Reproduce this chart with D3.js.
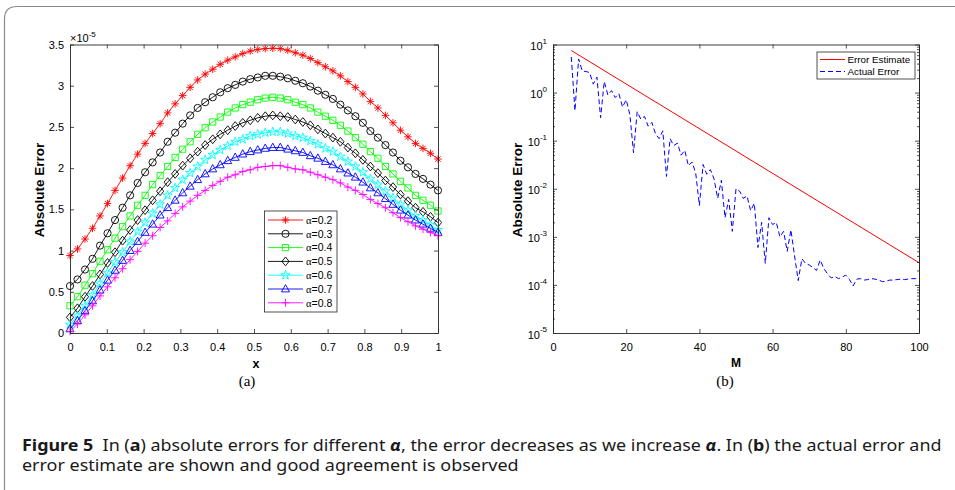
<!DOCTYPE html>
<html><head><meta charset="utf-8">
<script src="https://cdn.jsdelivr.net/npm/d3@7"></script>
<style>body{margin:0;background:#fff}svg{display:block}</style>
</head><body><svg id="c" width="955" height="490"></svg>
<script>
// ---------------- DATA ----------------
const xGrid = [0,0.0204,0.0408,0.0612,0.0816,0.1020,0.1224,0.1429,0.1633,0.1837,0.2041,0.2245,0.2449,0.2653,0.2857,0.3061,0.3265,0.3469,0.3673,0.3878,0.4082,0.4286,0.4490,0.4694,0.4898,0.5102,0.5306,0.5510,0.5714,0.5918,0.6122,0.6327,0.6531,0.6735,0.6939,0.7143,0.7347,0.7551,0.7755,0.7959,0.8163,0.8367,0.8571,0.8776,0.8980,0.9184,0.9388,0.9592,0.9796,1];
const alphaNames = ["0.2","0.3","0.4","0.5","0.6","0.7","0.8"];
const err_a02 = [0.94,1.02,1.14,1.27,1.42,1.57,1.73,1.88,2.03,2.17,2.30,2.42,2.54,2.67,2.78,2.88,2.98,3.07,3.14,3.20,3.26,3.31,3.35,3.39,3.42,3.44,3.45,3.455,3.45,3.43,3.40,3.37,3.33,3.28,3.23,3.18,3.12,3.05,2.98,2.90,2.81,2.73,2.64,2.55,2.46,2.38,2.30,2.24,2.18,2.11];
const err_a03 = [0.57,0.65,0.77,0.90,1.06,1.21,1.37,1.52,1.67,1.82,1.95,2.07,2.19,2.32,2.43,2.54,2.64,2.73,2.80,2.86,2.92,2.97,3.01,3.05,3.08,3.10,3.12,3.12,3.11,3.09,3.06,3.03,2.99,2.94,2.89,2.84,2.77,2.70,2.63,2.55,2.45,2.37,2.28,2.19,2.09,2.01,1.93,1.87,1.80,1.73];
const err_a04 = [0.33,0.44,0.58,0.72,0.87,1.01,1.15,1.29,1.42,1.55,1.67,1.80,1.91,2.02,2.13,2.23,2.32,2.41,2.49,2.56,2.62,2.68,2.73,2.77,2.80,2.83,2.85,2.86,2.85,2.83,2.80,2.77,2.73,2.68,2.63,2.58,2.52,2.45,2.37,2.29,2.20,2.12,2.02,1.93,1.84,1.76,1.67,1.61,1.55,1.48];
const err_a05 = [0.19,0.30,0.44,0.57,0.71,0.85,0.98,1.12,1.25,1.37,1.49,1.61,1.72,1.83,1.93,2.03,2.12,2.20,2.28,2.35,2.41,2.46,2.51,2.55,2.58,2.61,2.63,2.64,2.63,2.62,2.59,2.56,2.52,2.47,2.42,2.37,2.32,2.25,2.18,2.10,2.02,1.94,1.85,1.77,1.68,1.60,1.52,1.47,1.41,1.34];
const err_a06 = [0.10,0.21,0.33,0.46,0.60,0.73,0.86,0.98,1.11,1.23,1.34,1.45,1.56,1.67,1.76,1.86,1.94,2.02,2.10,2.16,2.22,2.27,2.32,2.35,2.39,2.41,2.43,2.44,2.44,2.42,2.39,2.37,2.33,2.29,2.24,2.20,2.14,2.08,2.02,1.95,1.87,1.80,1.72,1.64,1.56,1.49,1.42,1.37,1.31,1.25];
const err_a07 = [0.05,0.15,0.27,0.39,0.52,0.64,0.76,0.88,1.00,1.11,1.22,1.32,1.43,1.52,1.61,1.70,1.78,1.86,1.93,1.99,2.04,2.09,2.13,2.17,2.20,2.22,2.24,2.25,2.25,2.23,2.21,2.19,2.15,2.12,2.08,2.04,1.99,1.94,1.89,1.83,1.76,1.70,1.63,1.56,1.49,1.43,1.37,1.32,1.27,1.22];
const err_a08 = [0.02,0.11,0.22,0.33,0.45,0.56,0.67,0.78,0.89,0.99,1.09,1.18,1.28,1.36,1.45,1.53,1.60,1.67,1.73,1.79,1.84,1.89,1.92,1.96,1.98,2.01,2.02,2.03,2.03,2.01,1.99,1.98,1.95,1.92,1.89,1.86,1.82,1.77,1.73,1.68,1.62,1.57,1.52,1.46,1.40,1.35,1.30,1.26,1.22,1.18];
const xTicksL = [0,0.1,0.2,0.3,0.4,0.5,0.6,0.7,0.8,0.9,1];
const yTicksL = [0,0.5,1,1.5,2,2.5,3,3.5];

const estM = [5,100];
const estErr = [7.5,2.9e-4];
const actM = [5,6,7,8,9,10,11,12,13,14,15,16,17,18,19,20,21,22,23,24,25,26,27,28,29,30,31,32,33,34,35,36,37,38,39,40,41,42,43,44,45,46,47,48,49,50,51,52,53,54,55,56,57,58,59,60,61,62,63,64,65,66,67,68,69,70,71,72,73,74,75,76,77,78,79,80,81,82,83,84,85,86,87,88,89,90,91,92,93,94,95,96,97,98,99,100];
const actErr = [5.5,0.42,5.0,2.8,2.75,2.6,1.5,2.1,0.30,1.7,0.89,1.1,0.79,0.95,0.50,0.71,0.35,0.056,0.40,0.28,0.32,0.20,0.24,0.14,0.11,0.16,0.018,0.11,0.079,0.089,0.050,0.063,0.030,0.036,0.021,0.0045,0.032,0.020,0.025,0.016,0.0063,0.015,0.0025,0.0060,0.0013,0.010,0.0089,0.0063,0.0071,0.0035,0.0050,0.0006,0.0020,0.00028,0.0025,0.0018,0.0020,0.0010,0.0013,0.0005,0.0014,0.0004,0.000123,0.00035,0.00028,0.00026,0.00023,0.00020,0.00033,0.00022,0.00017,0.00014,0.00015,0.000135,0.000145,0.00016,0.00013,0.000095,0.000132,0.000135,0.000126,0.000129,0.000135,0.000132,0.000126,0.000117,0.00012,0.000126,0.000126,0.000129,0.000132,0.000129,0.000132,0.000135,0.000135,0.000138];
const xTicksR = [0,20,40,60,80,100];
const yExpR = [-5,-4,-3,-2,-1,0,1];
const legendR = ["Error Estimate","Actual Error"];

// ---------------- STYLE ----------------
const seriesL = [err_a02,err_a03,err_a04,err_a05,err_a06,err_a07,err_a08];
const colorsL = ["#ff0000","#000000","#00ff00","#000000","#00ffff","#0000ff","#ff00ff"];
const markersL = ["star","circle","square","diamond","pentagram","triangle","plus"];
const AX = "#262626";
const SANS = "'Liberation Sans', Arial, Helvetica, sans-serif";

const svg = d3.select("#c");
svg.append("rect").attr("width",955).attr("height",490).attr("fill","#fff");
svg.append("path").attr("d","M4.5,500 V19 Q4.5,6.5 17,6.5 H960")
  .attr("fill","none").attr("stroke","#8a8a8a").attr("stroke-width",1.2);

function drawMarker(g, type, cx, cy, color) {
  const p = g.append("path").attr("fill","none").attr("stroke",color).attr("stroke-width",0.9);
  let d = "";
  if (type === "star") {
    const s = 3.8, k = 2.7;
    d = `M${cx-s},${cy}H${cx+s}M${cx},${cy-s}V${cy+s}M${cx-k},${cy-k}L${cx+k},${cy+k}M${cx-k},${cy+k}L${cx+k},${cy-k}`;
  } else if (type === "circle") {
    d = d3.arc()({innerRadius:0,outerRadius:3.6,startAngle:0,endAngle:2*Math.PI});
    p.attr("transform",`translate(${cx},${cy})`);
  } else if (type === "square") {
    const s = 3.1; d = `M${cx-s},${cy-s}H${cx+s}V${cy+s}H${cx-s}Z`;
  } else if (type === "diamond") {
    const a = 3.6, b = 4.4; d = `M${cx},${cy-b}L${cx+a},${cy}L${cx},${cy+b}L${cx-a},${cy}Z`;
  } else if (type === "pentagram") {
    const R = 4.8, r = 1.9; const pts = [];
    for (let i=0;i<10;i++){ const ang = -Math.PI/2 + i*Math.PI/5; const rr = i%2?r:R; pts.push([cx+rr*Math.cos(ang), cy+rr*Math.sin(ang)]); }
    d = "M" + pts.map(q=>q.join(",")).join("L") + "Z";
  } else if (type === "triangle") {
    d = `M${cx},${cy-4.4}L${cx+4},${cy+2.9}L${cx-4},${cy+2.9}Z`;
  } else if (type === "plus") {
    const s = 4; d = `M${cx-s},${cy}H${cx+s}M${cx},${cy-s}V${cy+s}`;
  }
  p.attr("d", d);
}

function styleAxis(g) {
  g.selectAll("path.domain").attr("stroke",AX).attr("stroke-width",0.9);
  g.selectAll(".tick line").attr("stroke",AX).attr("stroke-width",0.8);
  g.selectAll(".tick text").attr("fill","#000").attr("font-family",SANS).attr("font-size",11);
}

// ---------------- LEFT PANEL ----------------
const xL = d3.scaleLinear().domain([0,1]).range([70,438]);
const yL = d3.scaleLinear().domain([0,3.5]).range([333,44.5]);
const gL = svg.append("g");

seriesL.forEach((vals, si) => {
  const pts = xGrid.map((x,i)=>[x, vals[i]]);
  gL.append("path").attr("d", d3.line().x(d=>xL(d[0])).y(d=>yL(d[1]))(pts))
    .attr("fill","none").attr("stroke",colorsL[si]).attr("stroke-width",0.9);
  pts.forEach(d => drawMarker(gL, markersL[si], xL(d[0]), yL(d[1]), colorsL[si]));
});

let a;
a = gL.append("g").attr("transform","translate(0,333)")
  .call(d3.axisBottom(xL).tickValues(xTicksL).tickSizeInner(-4).tickSizeOuter(0).tickPadding(10).tickFormat(d=>String(d)));
styleAxis(a);
a = gL.append("g").attr("transform","translate(0,44.5)")
  .call(d3.axisTop(xL).tickValues(xTicksL).tickSizeInner(-4).tickSizeOuter(0).tickFormat(""));
styleAxis(a);
a = gL.append("g").attr("transform","translate(70,0)")
  .call(d3.axisLeft(yL).tickValues(yTicksL).tickSizeInner(-4).tickSizeOuter(0).tickPadding(6).tickFormat(d=>String(d)));
styleAxis(a);
a = gL.append("g").attr("transform","translate(438,0)")
  .call(d3.axisRight(yL).tickValues(yTicksL).tickSizeInner(-4).tickSizeOuter(0).tickFormat(""));
styleAxis(a);

const mult = gL.append("text").attr("x",70).attr("y",41.5).attr("font-family",SANS).attr("font-size",11).attr("fill","#000");
mult.append("tspan").text("×10");
mult.append("tspan").attr("dy",-4.5).attr("font-size",8).text("-5");

gL.append("text").attr("x",256).attr("y",367.5).attr("text-anchor","middle")
  .attr("font-family",SANS).attr("font-size",12.5).attr("font-weight","bold").text("x");
gL.append("text").attr("transform","translate(44,190) rotate(-90)").attr("text-anchor","middle")
  .attr("font-family",SANS).attr("font-size",13.5).attr("font-weight","bold").text("Absolute Error");

// legend left
const lgL = gL.append("g");
lgL.append("rect").attr("x",264.5).attr("y",211).attr("width",72.5).attr("height",101)
  .attr("fill","#fff").attr("stroke",AX).attr("stroke-width",0.8);
alphaNames.forEach((nm,i)=>{
  const y = 220 + i*13.8;
  lgL.append("line").attr("x1",268).attr("x2",303).attr("y1",y).attr("y2",y).attr("stroke",colorsL[i]).attr("stroke-width",0.9);
  drawMarker(lgL, markersL[i], 285.5, y, colorsL[i]);
  const t = lgL.append("text").attr("x",306).attr("y",y+3.8).attr("font-size",10.5).attr("fill","#000");
  t.append("tspan").attr("font-family","'Liberation Serif', serif").text("α");
  t.append("tspan").attr("font-family",SANS).text("=" + nm);
});

// ---------------- RIGHT PANEL ----------------
const xR = d3.scaleLinear().domain([0,100]).range([553,919]);
const yR = d3.scaleLog().domain([1e-5,10]).range([333,44.5]);
const gR = svg.append("g");

gR.append("path").attr("d", d3.line().x(d=>xR(d[0])).y(d=>yR(d[1]))(estM.map((m,i)=>[m,estErr[i]])))
  .attr("fill","none").attr("stroke","#ff0000").attr("stroke-width",1);
gR.append("path").attr("d", d3.line().x(d=>xR(d[0])).y(d=>yR(d[1]))(actM.map((m,i)=>[m,actErr[i]])))
  .attr("fill","none").attr("stroke","#0000ff").attr("stroke-width",1).attr("stroke-dasharray","5,3");

const majorR = yExpR.map(e=>Math.pow(10,e));
const minorR = yR.ticks().filter(v => majorR.every(m => Math.abs(m - v)/m > 1e-6));

a = gR.append("g").attr("transform","translate(0,333)")
  .call(d3.axisBottom(xR).tickValues(xTicksR).tickSizeInner(-4).tickSizeOuter(0).tickPadding(10).tickFormat(d=>String(d)));
styleAxis(a);
a = gR.append("g").attr("transform","translate(0,44.5)")
  .call(d3.axisTop(xR).tickValues(xTicksR).tickSizeInner(-4).tickSizeOuter(0).tickFormat(""));
styleAxis(a);
a = gR.append("g").attr("transform","translate(553,0)")
  .call(d3.axisLeft(yR).tickValues(majorR).tickSizeInner(-4).tickSizeOuter(0).tickFormat(""));
styleAxis(a);
a = gR.append("g").attr("transform","translate(553,0)")
  .call(d3.axisLeft(yR).tickValues(minorR).tickSizeInner(-2).tickSizeOuter(0).tickFormat(""));
styleAxis(a);
a = gR.append("g").attr("transform","translate(919,0)")
  .call(d3.axisRight(yR).tickValues(majorR).tickSizeInner(-4).tickSizeOuter(0).tickFormat(""));
styleAxis(a);
a = gR.append("g").attr("transform","translate(919,0)")
  .call(d3.axisRight(yR).tickValues(minorR).tickSizeInner(-2).tickSizeOuter(0).tickFormat(""));
styleAxis(a);

yExpR.forEach(e => {
  const t = gR.append("text").attr("x",547).attr("y",yR(Math.pow(10,e))+5.5).attr("text-anchor","end")
    .attr("font-family",SANS).attr("font-size",11).attr("fill","#000");
  t.append("tspan").text("10");
  t.append("tspan").attr("dy",-6.5).attr("font-size",8).text(String(e));
});

gR.append("text").attr("x",736).attr("y",366.5).attr("text-anchor","middle")
  .attr("font-family",SANS).attr("font-size",12).attr("font-weight","bold").text("M");
gR.append("text").attr("transform","translate(522,190) rotate(-90)").attr("text-anchor","middle")
  .attr("font-family",SANS).attr("font-size",13.5).attr("font-weight","bold").text("Absolute Error");

const lgR = gR.append("g");
lgR.append("rect").attr("x",817).attr("y",52).attr("width",98).attr("height",27)
  .attr("fill","#fff").attr("stroke",AX).attr("stroke-width",0.8);
legendR.forEach((nm,i)=>{
  const y = 59.5 + i*12;
  lgR.append("line").attr("x1",820).attr("x2",845).attr("y1",y).attr("y2",y)
    .attr("stroke", i===0?"#ff0000":"#0000ff").attr("stroke-width",1).attr("stroke-dasharray", i===0?null:"5,3");
  lgR.append("text").attr("x",847.5).attr("y",y+3.5).attr("font-family",SANS).attr("font-size",9.8).attr("fill","#000").text(nm);
});

// sub labels
const SERIF = "'Liberation Serif', 'DejaVu Serif', serif";
svg.append("text").attr("x",247).attr("y",386).attr("text-anchor","middle").attr("font-family",SERIF).attr("font-size",15).text("(a)");
svg.append("text").attr("x",725).attr("y",386).attr("text-anchor","middle").attr("font-family",SERIF).attr("font-size",15).text("(b)");

// ---------------- CAPTION ----------------
const CAP = "'Noto Sans', 'Open Sans', sans-serif";
function capLine(y, parts, x0, x1) {
  const t = svg.append("text").attr("font-family",CAP).attr("font-size",16.5).attr("fill","#1a1a1a");
  parts.forEach(p => {
    const s = t.append("tspan").text(p.t);
    if (p.b) s.attr("font-weight","bold");
    if (p.i) s.attr("font-style","italic");
  });
  const w = t.node().getComputedTextLength();
  t.attr("transform", `translate(${x0},${y}) scale(${(x1-x0)/w},1)`);
}
capLine(451, [
  {t:"Figure 5", b:true}, {t:"\u00a0 In ("}, {t:"a", b:true}, {t:") absolute errors for different "},
  {t:"α", b:true, i:true}, {t:", the error decreases as we increase "}, {t:"α", b:true, i:true},
  {t:". In ("}, {t:"b", b:true}, {t:") the actual error and"}
], 22, 942);
capLine(471, [{t:"error estimate are shown and good agreement is observed"}], 22, 519);
</script></body></html>
